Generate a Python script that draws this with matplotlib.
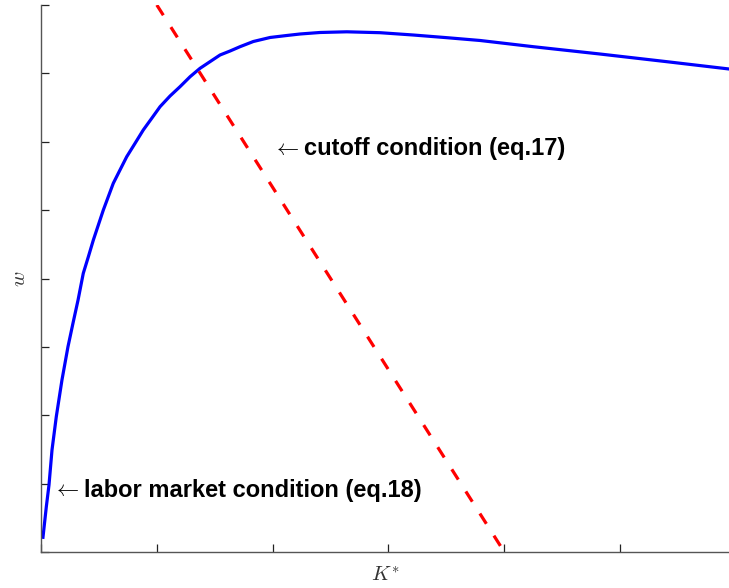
import matplotlib
matplotlib.use("Agg")
import matplotlib.pyplot as plt
from matplotlib import font_manager

plt.rcParams['mathtext.fontset'] = 'cm'

# pick the regular-width Liberation Sans Bold (not the Narrow variant)
bold_path = None
for f in font_manager.fontManager.ttflist:
    if f.name == 'Liberation Sans' and f.weight in (700, 'bold') \
            and f.style == 'normal' and 'Narrow' not in f.fname:
        bold_path = f.fname
        break
if bold_path:
    label_font = font_manager.FontProperties(fname=bold_path, size=17)
else:
    label_font = font_manager.FontProperties(family='DejaVu Sans', weight='bold', size=15)

# labor market condition (eq.18): w as a function of K*
k_labor = [0.017, 0.046, 0.069, 0.095, 0.132, 0.181, 0.233, 0.276, 0.320,
           0.365, 0.409, 0.452, 0.538, 0.624, 0.682, 0.740, 0.812, 0.883,
           0.956, 1.028, 1.114, 1.200, 1.287, 1.373, 1.459, 1.546, 1.632,
           1.718, 1.833, 1.978, 2.122, 2.237, 2.409, 2.640, 2.927, 3.215,
           3.504, 3.791, 4.251, 4.827, 5.403, 5.941]
w_labor = [0.215, 0.663, 0.980, 1.492, 1.979, 2.516, 3.003, 3.345, 3.686,
           4.076, 4.319, 4.563, 5.001, 5.392, 5.587, 5.781, 5.977, 6.172,
           6.343, 6.513, 6.669, 6.805, 6.951, 7.074, 7.171, 7.269, 7.327,
           7.390, 7.466, 7.525, 7.554, 7.576, 7.598, 7.608, 7.595, 7.561,
           7.522, 7.481, 7.390, 7.283, 7.171, 7.064]

# cutoff condition (eq.17): straight line
k_cutoff = [1.0, 4.0]
w_cutoff = [8.0, 0.0]

x_ticks = [0, 1, 2, 3, 4, 5]
y_ticks = [0, 1, 2, 3, 4, 5, 6, 7, 8]

fig = plt.figure(figsize=(7.29, 5.88), dpi=100)
ax = fig.add_axes([41 / 729, 1 - 552 / 588, 1 - 41 / 729, (552 - 5) / 588])

ax.plot(k_labor, w_labor, color='blue', lw=2.3, solid_joinstyle='round')
ax.plot(k_cutoff, w_cutoff, color='red', lw=2.3, linestyle=(0, (3.8, 4.4)))

ax.set_xlim(0, 5.94)
ax.set_ylim(0, 8)
ax.set_xticks(x_ticks)
ax.set_yticks(y_ticks)
ax.set_xticklabels([])
ax.set_yticklabels([])
ax.tick_params(direction='in', length=6, width=0.9, colors='#222222')

for side in ['top', 'right']:
    ax.spines[side].set_visible(False)
for side in ['left', 'bottom']:
    ax.spines[side].set_color('#555555')
    ax.spines[side].set_linewidth(1.0)

ax.set_xlabel('$K^{*}$', fontsize=15, color='#333333', labelpad=6)
ax.set_ylabel('$w$', fontsize=15, color='#333333', labelpad=5)

# arrows in math font, labels in bold sans
ax.text(2.0, 5.90, r'$\leftarrow$', fontsize=16, va='center', ha='left')
ax.text(2.27, 5.90, 'cutoff condition (eq.17)', fontproperties=label_font,
        va='center', ha='left')
ax.text(0.10, 0.90, r'$\leftarrow$', fontsize=16, va='center', ha='left')
ax.text(0.37, 0.90, 'labor market condition (eq.18)', fontproperties=label_font,
        va='center', ha='left')

fig.savefig('out.png', dpi=100)
